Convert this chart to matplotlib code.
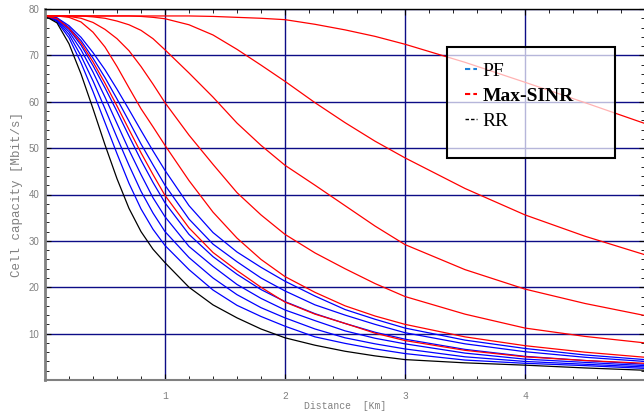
import matplotlib
matplotlib.use("Agg")
import matplotlib.pyplot as plt
from matplotlib.lines import Line2D
from matplotlib.patches import Rectangle
from matplotlib.ticker import MultipleLocator

# distance from the base station [km]
dist = [0, 0.1, 0.2, 0.3, 0.4, 0.5, 0.6, 0.7, 0.8, 0.9, 1.0, 1.2,
        1.4, 1.6, 1.8, 2.0, 2.25, 2.5, 2.75, 3.0, 3.5, 4.0, 4.5, 5.0]

# round robin
rr = [78.5, 77.0, 72.5, 66.0, 58.5, 50.7, 43.4, 37.0, 32.0, 28.2, 25.3, 20.0,
      16.2, 13.4, 11.0, 9.1, 7.5, 6.2, 5.2, 4.4, 3.7, 3.2, 2.6, 2.1]

# proportional fair, several settings
pf_1 = [78.5, 77.3, 73.8, 68.4, 62.2, 55.5, 48.8, 42.4, 36.9, 32.5, 29.0, 23.8,
        19.4, 16.1, 13.7, 11.6, 9.3, 7.9, 6.7, 5.7, 4.3, 3.6, 3.1, 2.5]
pf_2 = [78.5, 77.5, 74.5, 69.9, 64.5, 58.5, 52.3, 46.3, 40.7, 36.0, 32.0, 26.4,
        22.0, 18.4, 15.6, 13.4, 11.0, 9.1, 7.8, 6.7, 5.0, 4.0, 3.4, 2.8]
pf_3 = [78.5, 77.7, 75.1, 71.2, 66.4, 61.0, 55.3, 49.6, 44.3, 39.3, 35.2, 28.8,
        24.5, 20.6, 17.6, 15.1, 12.8, 10.6, 9.0, 7.8, 5.8, 4.5, 3.8, 3.1]
pf_4 = [78.5, 77.8, 75.6, 72.2, 67.8, 63.0, 57.9, 52.6, 47.4, 42.6, 38.2, 31.4,
        26.6, 22.8, 19.5, 16.9, 14.3, 12.2, 10.3, 8.8, 6.6, 5.1, 4.2, 3.4]
pf_5 = [78.5, 78.0, 76.0, 73.2, 69.4, 65.2, 60.6, 55.8, 50.9, 46.4, 42.0, 34.7,
        29.3, 25.5, 22.0, 19.2, 16.2, 14.0, 12.0, 10.2, 7.8, 6.1, 4.9, 4.0]
pf_6 = [78.5, 78.1, 76.4, 73.9, 70.6, 66.9, 62.7, 58.3, 53.8, 49.4, 45.2, 37.6,
        31.8, 27.6, 24.3, 21.3, 18.1, 15.2, 13.1, 11.2, 8.6, 6.8, 5.4, 4.4]

# max-SINR, several settings
ms_1 = [78.5, 77.9, 75.8, 72.7, 68.6, 64.0, 59.1, 54.0, 49.0, 44.3, 39.8, 32.8,
        27.5, 23.6, 20.0, 16.8, 14.2, 12.2, 10.1, 8.5, 6.4, 5.0, 4.2, 3.6]
ms_2 = [78.5, 78.5, 78.2, 77.2, 75.0, 71.8, 67.6, 63.0, 58.5, 54.6, 50.6, 43.0,
        36.2, 30.6, 26.0, 22.3, 18.9, 16.0, 13.8, 12.0, 9.3, 7.4, 6.0, 4.9]
ms_3 = [78.5, 78.5, 78.4, 78.0, 77.1, 75.6, 73.6, 71.0, 67.6, 63.8, 59.8, 52.8,
        46.5, 40.4, 35.6, 31.4, 27.4, 24.0, 20.8, 18.0, 14.2, 11.2, 9.4, 8.0]
ms_4 = [78.5, 78.5, 78.5, 78.5, 78.3, 78.0, 77.4, 76.6, 75.4, 73.6, 71.2, 66.2,
        61.0, 55.4, 50.6, 46.3, 42.0, 37.6, 33.2, 29.2, 23.8, 19.6, 16.5, 13.9]
ms_5 = [78.5, 78.5, 78.5, 78.5, 78.5, 78.5, 78.5, 78.5, 78.4, 78.2, 77.9, 76.6,
        74.4, 71.3, 67.9, 64.4, 59.8, 55.5, 51.5, 47.9, 41.3, 35.6, 31.0, 27.0]
ms_6 = [78.5, 78.5, 78.5, 78.5, 78.5, 78.5, 78.5, 78.5, 78.5, 78.5, 78.5, 78.5,
        78.4, 78.2, 78.0, 77.7, 76.7, 75.5, 74.1, 72.4, 68.5, 64.2, 59.8, 55.3]

pf_curves = [pf_1, pf_2, pf_3, pf_4, pf_5, pf_6]
ms_curves = [ms_1, ms_2, ms_3, ms_4, ms_5, ms_6]

fig = plt.figure(figsize=(6.44, 4.12), dpi=100)
ax = fig.add_axes([45 / 644, 32 / 412, 600 / 644, 371 / 412])

for c in pf_curves:
    ax.plot(dist, c, color="#0000ff", lw=0.9)
ax.plot(dist, rr, color="black", lw=0.9)
for c in ms_curves:
    ax.plot(dist, c, color="#ff0000", lw=0.9)

ax.set_xlim(0, 5)
ax.set_ylim(0, 80)
ax.set_xticks([1, 2, 3, 4])
ax.set_yticks([10, 20, 30, 40, 50, 60, 70, 80])
ax.xaxis.set_minor_locator(MultipleLocator(0.2))
ax.yaxis.set_minor_locator(MultipleLocator(2))
ax.tick_params(which="both", direction="in", top=True, right=True, color="black")
ax.tick_params(which="major", length=4, width=0.8, labelsize=7, labelcolor="#808080")
ax.tick_params(which="minor", length=3, width=0.6)
ax.tick_params(axis="x", pad=8)
ax.tick_params(axis="y", pad=4)
for lbl in ax.get_xticklabels():
    lbl.set_family("Liberation Mono")
for lbl in ax.get_yticklabels():
    lbl.set_family("Liberation Sans")

ax.grid(True, which="major", color="#0c0c86", lw=1.0)
ax.set_axisbelow(True)

ax.spines["left"].set_color("#808080")
ax.spines["left"].set_linewidth(2)
ax.spines["bottom"].set_color("#808080")
ax.spines["bottom"].set_linewidth(1.5)
ax.spines["top"].set_color("black")
ax.spines["top"].set_linewidth(1)
ax.spines["right"].set_visible(False)

ax.set_xlabel("Distance  [Km]", family="Liberation Mono", fontsize=7,
              color="#808080", labelpad=0)
ax.set_ylabel("Cell capacity [Mbit/s]", family="Liberation Mono", fontsize=9,
              color="#808080", labelpad=4)

# legend box
ax.add_patch(Rectangle((0.67, 0.599), 0.28, 0.299, transform=ax.transAxes,
                       facecolor=(1, 1, 1, 0.7), edgecolor="black", lw=1.5,
                       zorder=4))
handles = [Line2D([], [], color="#1a7fd8", ls=(0, (2.5, 1.5)), lw=1.5),
           Line2D([], [], color="#ff0000", ls=(0, (2.5, 1.5)), lw=1.5),
           Line2D([], [], color="black", ls=(0, (2.5, 1.5)), lw=1.0)]
leg = ax.legend(handles, ["PF", "Max-SINR", "RR"], loc="upper left",
                bbox_to_anchor=(0.70, 0.857), frameon=False,
                prop={"family": "Liberation Serif", "size": 14},
                handlelength=0.62, handletextpad=0.3, labelspacing=0.38,
                borderpad=0, borderaxespad=0)
leg.get_texts()[1].set_fontweight("bold")

fig.savefig("out.png", dpi=100)
